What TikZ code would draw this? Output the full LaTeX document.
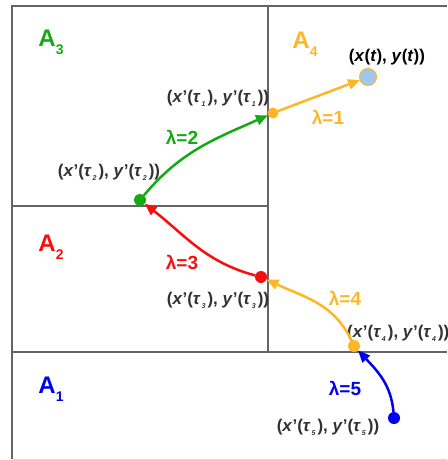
\documentclass[tikz,border=0pt]{standalone}
\usepackage{fontspec}
\setmainfont{Liberation Sans}
\usepackage{tikz}
\usetikzlibrary{arrows.meta, positioning}
\definecolor{regblue}{RGB}{0,0,240}
\definecolor{reggreen}{RGB}{20,170,20}
\definecolor{regorange}{RGB}{255,182,36}
\definecolor{regred}{RGB}{245,15,15}
\definecolor{ptfill}{RGB}{160,200,238}
\definecolor{gridgray}{RGB}{100,100,100}
\definecolor{labgray}{RGB}{50,50,50}
\newcommand{\tsub}[1]{\kern1pt\raisebox{-4pt}{\fontsize{7}{7}\selectfont\textit{#1}}\kern2pt}
\newcommand{\regsub}[1]{\raisebox{-8pt}{\fontsize{14}{14}\selectfont #1}}
\newcommand{\tpos}[1]{(\textit{x}'(\textit{τ}\tsub{#1}), \textit{y}'(\textit{τ}\tsub{#1}))}
\tikzset{
  dot/.style={
    circle, inner sep=0pt, outer sep=0pt, minimum size=12pt
  },
  coordlab/.style={
    font=\fontsize{17}{19}\selectfont\bfseries, text=labgray, inner sep=0pt
  },
  lamlab/.style={font=\fontsize{19}{21}\selectfont\bfseries, inner sep=0pt},
  reglab/.style={font=\fontsize{24}{26}\selectfont\bfseries, inner sep=0pt},
  walk/.style={-{Triangle[length=12pt,width=10pt]}, line width=2.5pt},
  border/.style={draw=gridgray, line width=1.5pt}
}

\begin{document}
\begin{tikzpicture}[x=1pt, y=1pt]
  \useasboundingbox (0,0) rectangle (447,-460);
  % regions
  \draw[border] (12,-459) -- (12,-6) -- (447,-6);
  \draw[draw=gray!30, line width=1pt] (12,-459) -- (447,-459);
  \draw[border] (268,-6) -- (268,-352);
  \draw[border] (12,-206) -- (268,-206);
  \draw[border] (12,-352) -- (447,-352);

  \node[reglab, text=reggreen] (a3) at (51,-42) {A\regsub{3}};
  \node[reglab, text=regorange] (a4) at (305,-44) {A\regsub{4}};
  \node[reglab, text=regred] (a2) at (51,-247) {A\regsub{2}};
  \node[reglab, text=regblue] (a1) at (51,-389) {A\regsub{1}};

  % points
  \node[dot, fill=ptfill, draw=regorange, line width=1pt, minimum size=17pt]
    (xt) at (368,-77) {};
  \node[dot, fill=regorange, minimum size=11pt] (t1) at (273,-113) {};
  \node[dot, fill=reggreen] (t2) at (140,-200) {};
  \node[dot, fill=regred] (t3) at (261,-277) {};
  \node[dot, fill=regorange] (t4) at (354,-346) {};
  \node[dot, fill=regblue] (t5) at (394,-418) {};

  \node[coordlab, text=black] (xtlab) at (387,-57)
    {(\textit{x}(\textit{t}), \textit{y}(\textit{t}))};
  \node[coordlab] (t1lab) at (218,-98) {\tpos{1}};
  \node[coordlab] (t2lab) at (109,-172) {\tpos{2}};
  \node[coordlab] (t3lab) at (218,-300) {\tpos{3}};
  \node[coordlab, anchor=west] (t4lab) at (347,-333) {\tpos{4}};
  \node[coordlab] (t5lab) at (328,-427) {\tpos{5}};

  % walk
  \draw[walk, regblue] (t5) to[out=95, in=-47] (t4);
  \draw[walk, regorange] (t4) to[out=115, in=-25] (t3);
  \draw[walk, regred] (t3) to[out=165, in=-38] (t2);
  \draw[walk, reggreen] (t2) to[out=50, in=204] (t1);
  \draw[walk, regorange] (t1) -- (xt);

  \node[lamlab, text=regorange] (l1) at (328,-117) {λ=1};
  \node[lamlab, text=reggreen] (l2) at (182,-137) {λ=2};
  \node[lamlab, text=regred] (l3) at (182,-262) {λ=3};
  \node[lamlab, text=regorange] (l4) at (345,-298) {λ=4};
  \node[lamlab, text=regblue] (l5) at (345,-388) {λ=5};
\end{tikzpicture}
\end{document}
